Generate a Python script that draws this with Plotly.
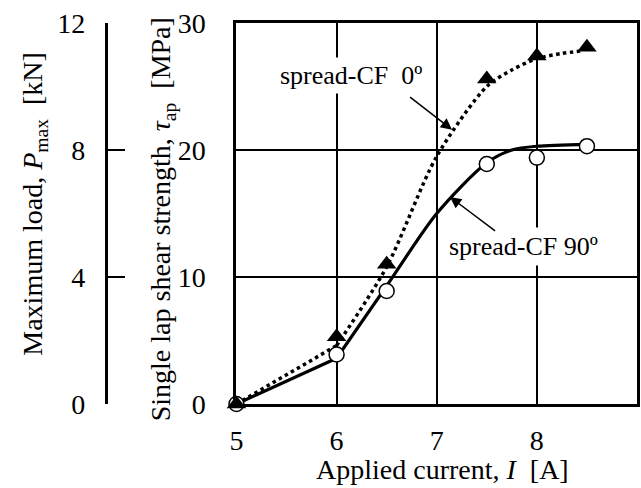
import plotly.graph_objects as go

# ---- data ----
current = [5, 6, 6.5, 7.5, 8, 8.5]
tau_0deg = [0, 5.3, 11.0, 25.6, 27.4, 28.1]
tau_90deg = [0, 3.9, 8.9, 18.9, 19.4, 20.3]

# fitted curves: straight start, then a smooth curve
fit0_start_x = [5, 6]
fit0_start_y = [0, 4.6]
fit0_x = [6, 6.5, 7, 7.5, 7.75, 8, 8.25, 8.45]
fit0_y = [4.6, 10.8, 19.5, 25.0, 26.3, 27.2, 27.6, 27.8]
fit90_start_x = [5, 6]
fit90_start_y = [0, 3.6]
fit90_x = [6, 6.5, 7, 7.5, 7.75, 8, 8.5]
fit90_y = [3.6, 9.3, 15.0, 19.0, 20.0, 20.3, 20.45]

x_ticks = [5, 6, 7, 8, 9]
tau_ticks = [0, 10, 20, 30]
load_ticks = [0, 4, 8, 12]

FONT = "Liberation Serif"
FS = 28
W, H = 641, 488
ml, mr, mt, mb = 0, 4, 23, 84
pw = W - ml - mr
x0 = 232 / pw
pos2 = 100 / pw

fig = go.Figure()

solid = dict(color="black", width=3.2)
dotted = dict(color="black", width=3.5, dash="dot")
fig.add_trace(go.Scatter(x=fit90_start_x, y=fit90_start_y, mode="lines", line=solid,
                         hoverinfo="skip", showlegend=False, cliponaxis=False))
fig.add_trace(go.Scatter(x=fit90_x, y=fit90_y, mode="lines",
                         line=dict(solid, shape="spline", smoothing=0.8),
                         hoverinfo="skip", showlegend=False, cliponaxis=False))
fig.add_trace(go.Scatter(x=fit0_start_x, y=fit0_start_y, mode="lines", line=dotted,
                         hoverinfo="skip", showlegend=False, cliponaxis=False))
fig.add_trace(go.Scatter(x=fit0_x, y=fit0_y, mode="lines",
                         line=dict(dotted, shape="spline", smoothing=0.8),
                         hoverinfo="skip", showlegend=False, cliponaxis=False))
fig.add_trace(go.Scatter(x=current, y=tau_90deg, mode="markers",
                         marker=dict(symbol="circle", size=15, color="white",
                                     line=dict(color="black", width=1.5)),
                         showlegend=False, cliponaxis=False))
fig.add_trace(go.Scatter(x=current, y=tau_0deg, mode="markers",
                         marker=dict(symbol="triangle-up", size=17, color="black",
                                     line=dict(color="black", width=0)),
                         showlegend=False, cliponaxis=False))
# empty traces to carry the extra left axis
for ya in ["y2", "y3", "y4"]:
    fig.add_trace(go.Scatter(x=[None], y=[None], yaxis=ya, mode="markers",
                             showlegend=False, hoverinfo="skip"))

fig.update_layout(
    width=W, height=H,
    margin=dict(l=ml, r=mr, t=mt, b=mb),
    paper_bgcolor="white", plot_bgcolor="white",
    font=dict(family=FONT, size=FS, color="black"),
    xaxis=dict(domain=[x0, 1], range=[5, 9], tickvals=x_ticks,
               showgrid=True, gridcolor="black", gridwidth=1.5, zeroline=False,
               showline=True, linecolor="black", linewidth=3, mirror=True,
               ticks="outside", ticklen=9, tickcolor="rgba(0,0,0,0)",
               tickfont=dict(size=FS)),
    yaxis=dict(range=[0, 30], tickvals=tau_ticks,
               showgrid=True, gridcolor="black", gridwidth=1.5, zeroline=False,
               showline=True, linecolor="black", linewidth=3, mirror=True,
               ticks="outside", ticklen=22, tickcolor="rgba(0,0,0,0)",
               tickfont=dict(size=FS)),
    yaxis2=dict(range=[0, 12], tickvals=load_ticks, overlaying="y", anchor="free",
                position=pos2, side="left", showgrid=False, zeroline=False,
                showline=True, linecolor="black", linewidth=3,
                ticks="outside", ticklen=14, tickcolor="rgba(0,0,0,0)",
                tickfont=dict(size=FS)),
    yaxis3=dict(range=[0, 12], tickvals=[4, 8], overlaying="y", anchor="free",
                position=pos2, side="left", showgrid=False, zeroline=False,
                showline=False, showticklabels=False,
                ticks="inside", ticklen=18, tickwidth=1.5, tickcolor="black"),
    yaxis4=dict(range=[0, 12], tickvals=[0, 12], overlaying="y", anchor="free",
                position=pos2, side="left", showgrid=False, zeroline=False,
                showline=False, showticklabels=False,
                ticks="inside", ticklen=18, tickwidth=3, tickcolor="black"),
)

ann = []
# axis titles
ann.append(dict(text="Applied current, <i>I</i>&nbsp; [A]", xref="paper", yref="paper",
                x=440 / pw, y=(404 - 470) / 381, xanchor="center", yanchor="middle",
                showarrow=False, font=dict(size=FS)))
ann.append(dict(text="Single lap shear strength, <i>τ</i><sub>ap</sub>&nbsp; [MPa]", xref="paper", yref="paper",
                x=157 / pw, y=(404 - 219) / 381, xanchor="center", yanchor="middle",
                textangle=-90, showarrow=False, font=dict(size=FS)))
ann.append(dict(text="Maximum load, <i>P</i><sub>max</sub>&nbsp; [kN]", xref="paper", yref="paper",
                x=27 / pw, y=(404 - 204) / 381, xanchor="center", yanchor="middle",
                textangle=-90, showarrow=False, font=dict(size=FS)))
# series labels
ann.append(dict(text="spread-CF&nbsp; 0º&nbsp;", x=6.18, y=25.9, xref="x", yref="y",
                showarrow=False, bgcolor="white", borderpad=3, font=dict(size=26)))
ann.append(dict(text="spread-CF 90º", x=7.864, y=12.4, xref="x", yref="y",
                showarrow=False, bgcolor="white", borderpad=4, font=dict(size=26)))
# arrows
ann.append(dict(text="", x=7.153, y=21.6, ax=6.719, ay=24.25, xref="x", yref="y",
                axref="x", ayref="y", showarrow=True, arrowhead=2, arrowsize=1.5,
                arrowwidth=1.5, arrowcolor="black"))
ann.append(dict(text="", x=7.133, y=16.3, ax=7.598, ay=13.54, xref="x", yref="y",
                axref="x", ayref="y", showarrow=True, arrowhead=2, arrowsize=1.5,
                arrowwidth=1.5, arrowcolor="black"))
fig.update_layout(annotations=ann)

fig.write_html("out.html")
